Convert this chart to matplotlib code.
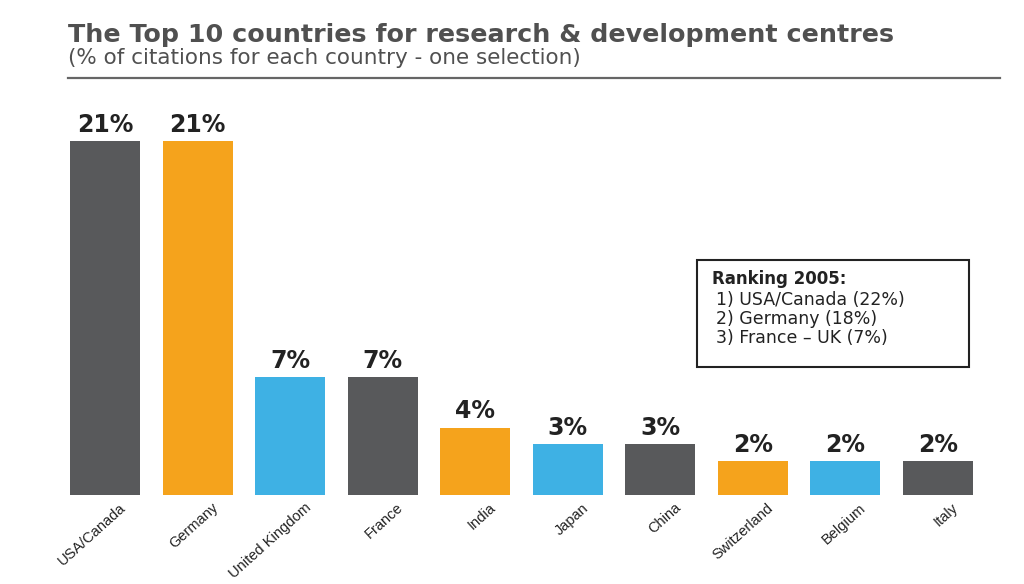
import matplotlib.pyplot as plt
import matplotlib.transforms as mtransforms
from matplotlib.lines import Line2D
from matplotlib.patches import Rectangle

# chart data
countries = ['USA/Canada', 'Germany', 'United Kingdom', 'France', 'India',
             'Japan', 'China', 'Switzerland', 'Belgium', 'Italy']
shares = [21, 21, 7, 7, 4, 3, 3, 2, 2, 2]
bar_colors = ['#58595b', '#f5a31c', '#3eb1e4', '#58595b', '#f5a31c',
              '#3eb1e4', '#58595b', '#f5a31c', '#3eb1e4', '#58595b']

title = 'The Top 10 countries for research & development centres'
subtitle = '(% of citations for each country - one selection)'
box_title = 'Ranking 2005:'
box_lines = ['1) USA/Canada (22%)', '2) Germany (18%)', '3) France \u2013 UK (7%)']

W, H = 1024, 584

fig = plt.figure(figsize=(W / 100, H / 100), dpi=100)
fig.patch.set_facecolor('white')

# axes placed in pixel terms
ax = fig.add_axes([70 / W, (H - 495) / H, 903 / W, 354 / H])
x = range(len(countries))
ax.bar(x, shares, width=0.76, color=bar_colors)
ax.set_xlim(-0.38, len(countries) - 1 + 0.38)
ax.set_ylim(0, 21)
for s in ax.spines.values():
    s.set_visible(False)
ax.set_yticks([])
ax.set_xticks(list(x))
ax.set_xticklabels(countries, rotation=42, ha='right', va='top',
                   rotation_mode='anchor', fontsize=10.5,
                   family='Liberation Sans', color='#222222')
ax.tick_params(axis='x', length=0, pad=4)
offset = mtransforms.ScaledTranslation(14 / 100, 0, fig.dpi_scale_trans)
for lbl in ax.get_xticklabels():
    lbl.set_transform(lbl.get_transform() + offset)

for xi, v in zip(x, shares):
    ax.annotate(f'{v}%', (xi, v), xytext=(0, 3), textcoords='offset points',
                ha='center', va='bottom', fontsize=17, fontweight='bold',
                color='#222222')

# header
fig.text(68 / W, 1 - 42 / H, title, fontsize=18.3, fontweight='bold',
         color='#505050', ha='left', va='baseline')
fig.text(68 / W, 1 - 64 / H, subtitle, fontsize=15.5, color='#505050',
         ha='left', va='baseline')
fig.add_artist(Line2D([68 / W, 1000 / W], [1 - 78 / H, 1 - 78 / H],
                      color='#666666', lw=1.6))

# ranking box
fig.add_artist(Rectangle((697 / W, 1 - 367 / H), 272 / W, 107 / H,
                         transform=fig.transFigure, fill=False,
                         edgecolor='#222222', lw=1.5))
fig.text(712 / W, 1 - 279 / H, box_title, fontsize=12, fontweight='bold',
         color='#222222', va='center')
for i, line in enumerate(box_lines):
    fig.text(716 / W, 1 - (300 + 19 * i) / H, line, fontsize=12.5,
             color='#222222', va='center')

fig.savefig('out.png', dpi=100)
